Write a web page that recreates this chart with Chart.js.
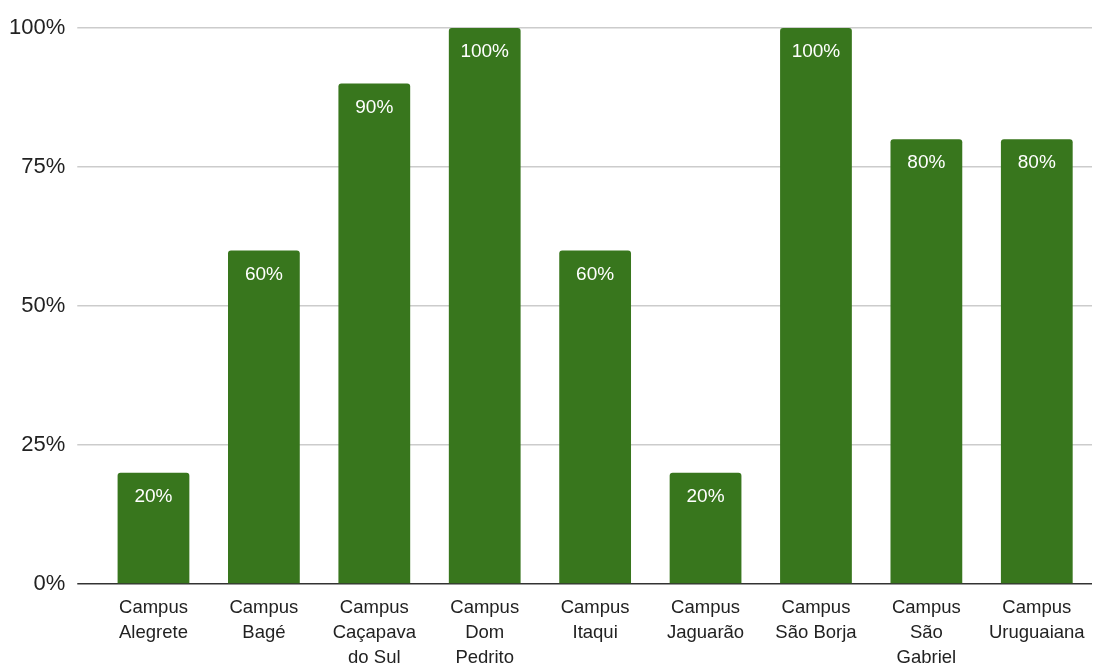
<!DOCTYPE html>
<html>
<head>
<meta charset="utf-8">
<script src="https://cdn.jsdelivr.net/npm/chart.js@4"></script>
<style>
  body { margin: 0; background: #fff; }
  #wrap { width: 1099px; height: 665px; }
</style>
</head>
<body>
<div id="wrap"><canvas id="campusChart"></canvas></div>
<script>
const campusLabels = [
    ['Campus', 'Alegrete'],
    ['Campus', 'Bagé'],
    ['Campus', 'Caçapava', 'do Sul'],
    ['Campus', 'Dom', 'Pedrito'],
    ['Campus', 'Itaqui'],
    ['Campus', 'Jaguarão'],
    ['Campus', 'São Borja'],
    ['Campus', 'São', 'Gabriel'],
    ['Campus', 'Uruguaiana']
];
const percentValues = [20, 60, 90, 100, 60, 20, 100, 80, 80];
const yTicks = [0, 25, 50, 75, 100];

// cores
const green = '#38761d';
const gridColor = '#cccccc';
const baseColor = '#333333';

// rótulos brancos dentro das barras
const valueLabels = {
    id: 'valueLabels',
    afterDatasetsDraw(chart) {
        const ctx = chart.ctx;
        const meta = chart.getDatasetMeta(0);
        ctx.save();
        ctx.fillStyle = '#ffffff';
        ctx.font = '19px "Liberation Sans", Arial, sans-serif';
        ctx.textAlign = 'center';
        ctx.textBaseline = 'middle';
        meta.data.forEach((bar, i) => {
            ctx.fillText(percentValues[i] + '%', bar.x, bar.y + 24);
        });
        ctx.restore();
    }
};

new Chart(document.getElementById('campusChart').getContext('2d'), {
    type: 'bar',
    data: {
        labels: campusLabels,
        datasets: [{
            data: percentValues,
            backgroundColor: green,
            borderRadius: { topLeft: 3, topRight: 3 },
            borderSkipped: 'bottom',
            categoryPercentage: 1,
            barPercentage: 0.65
        }]
    },
    options: {
        responsive: true,
        maintainAspectRatio: false,
        animation: false,
        layout: { padding: { top: 28, right: 7, left: -3, bottom: -16 } },
        plugins: { legend: { display: false }, tooltip: { enabled: false } },
        scales: {
            x: {
                grid: { display: false, drawTicks: false },
                border: { display: false },
                ticks: {
                    color: '#222',
                    font: { family: '"Liberation Sans", Arial, sans-serif', size: 18.5, lineHeight: 1.35 },
                    padding: 11,
                    maxRotation: 0,
                    autoSkip: false
                }
            },
            y: {
                min: 0,
                max: 100,
                afterBuildTicks: axis => { axis.ticks = yTicks.map(v => ({ value: v })); },
                grid: {
                    color: c => c.tick && c.tick.value === 0 ? baseColor : gridColor,
                    lineWidth: 1.5,
                    tickLength: 21
                },
                border: { display: false },
                ticks: {
                    color: '#222',
                    font: { family: '"Liberation Sans", Arial, sans-serif', size: 22 },
                    padding: 12,
                    callback: v => v + '%'
                }
            }
        }
    },
    plugins: [valueLabels]
});
</script>
</body>
</html>
